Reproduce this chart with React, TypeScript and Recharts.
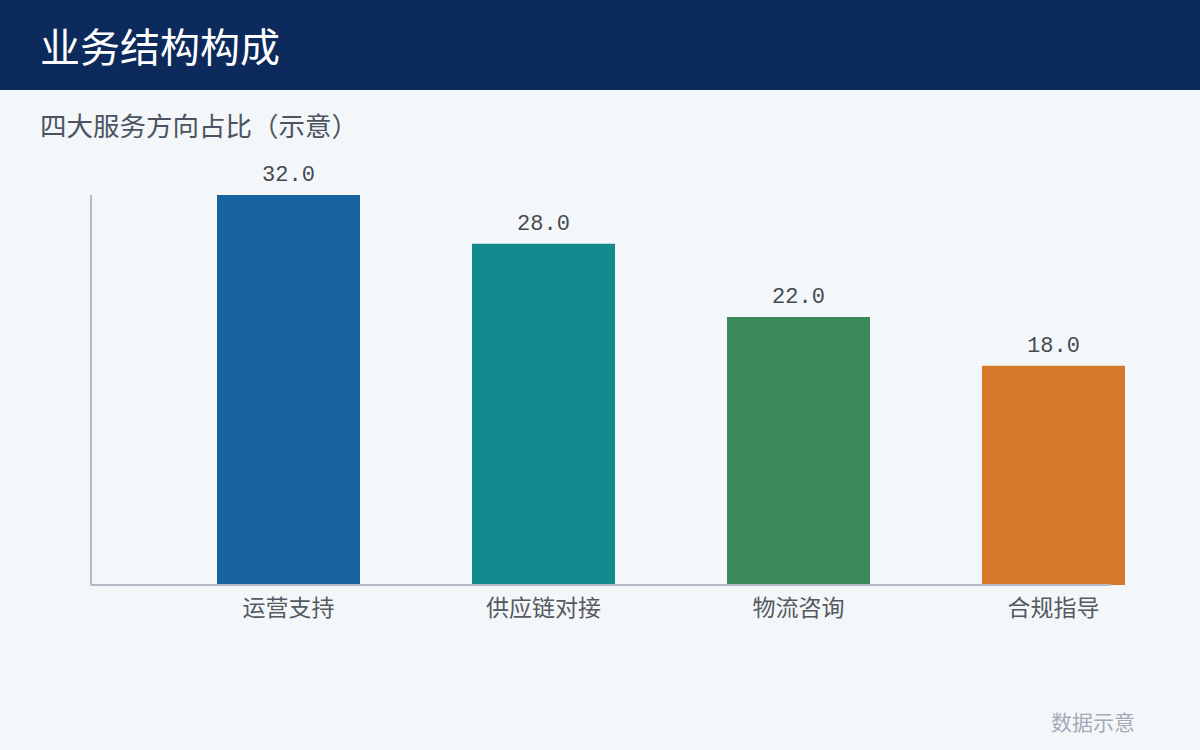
import React from "react";
import { BarChart, Bar, XAxis, YAxis, Cell, LabelList } from "recharts";

const categories = ["运营支持", "供应链对接", "物流咨询", "合规指导"];
const values = [32.0, 28.0, 22.0, 18.0];
const barColors = ["#1663a0", "#118a8d", "#3b8b5a", "#d6782a"];
const categoryIndex = [0, 1, 2, 3];
const xDomain: [number, number] = [-0.7745, 3.2255];
const yDomain: [number, number] = [0, 32];

const data = categories.map((name, i) => ({ idx: categoryIndex[i], name, value: values[i] }));

const CJK = "'Noto Sans CJK SC', 'Noto Sans', sans-serif";
const MONO = "'Liberation Mono', 'DejaVu Sans Mono', monospace";

export default function App() {
  return (
    <div
      style={{
        position: "absolute",
        left: 0,
        top: 0,
        width: 1200,
        height: 750,
        background: "#f4f7fa",
        fontFamily: CJK,
        overflow: "hidden",
      }}
    >
      <div
        style={{
          position: "absolute",
          left: 0,
          top: 0,
          width: 1200,
          height: 90,
          background: "#0d2a5c",
        }}
      />
      <div
        style={{
          position: "absolute",
          left: 40,
          top: 20,
          fontSize: 40,
          lineHeight: "50px",
          color: "#ffffff",
          fontWeight: 400,
        }}
      >
        业务结构构成
      </div>
      <div
        style={{
          position: "absolute",
          left: 40,
          top: 108,
          fontSize: 26.5,
          lineHeight: "34px",
          color: "#4b5361",
        }}
      >
        四大服务方向占比（示意）
      </div>
      <div style={{ position: "absolute", left: 0, top: 0 }}>
        <BarChart
          width={1200}
          height={750}
          data={data}
          margin={{ top: 195, right: 89, bottom: 125, left: 90 }}
        >
          <XAxis
            type="number"
            dataKey="idx"
            domain={xDomain}
            ticks={categoryIndex}
            allowDecimals
            tickFormatter={(v: number) => categories[v] ?? ""}
            tickLine={false}
            axisLine={{ stroke: "#b2bcc8", strokeWidth: 2 }}
            height={40}
            tick={{ fill: "#555a60", fontSize: 23, fontFamily: CJK, dy: 7 }}
          />
          <YAxis
            width={1}
            domain={yDomain}
            tick={false}
            tickLine={false}
            axisLine={{ stroke: "#b2bcc8", strokeWidth: 2 }}
          />
          <Bar dataKey="value" barSize={143} isAnimationActive={false}>
            {data.map((d, i) => (
              <Cell key={d.name} fill={barColors[i]} />
            ))}
            <LabelList
              dataKey="value"
              position="top"
              offset={14}
              formatter={(v: number) => v.toFixed(1)}
              style={{ fill: "#444a50", fontSize: 22, fontFamily: MONO }}
            />
          </Bar>
        </BarChart>
      </div>
      <div
        style={{
          position: "absolute",
          left: 1051,
          top: 707,
          fontSize: 21,
          lineHeight: "28px",
          color: "#a3abb6",
        }}
      >
        数据示意
      </div>
    </div>
  );
}
